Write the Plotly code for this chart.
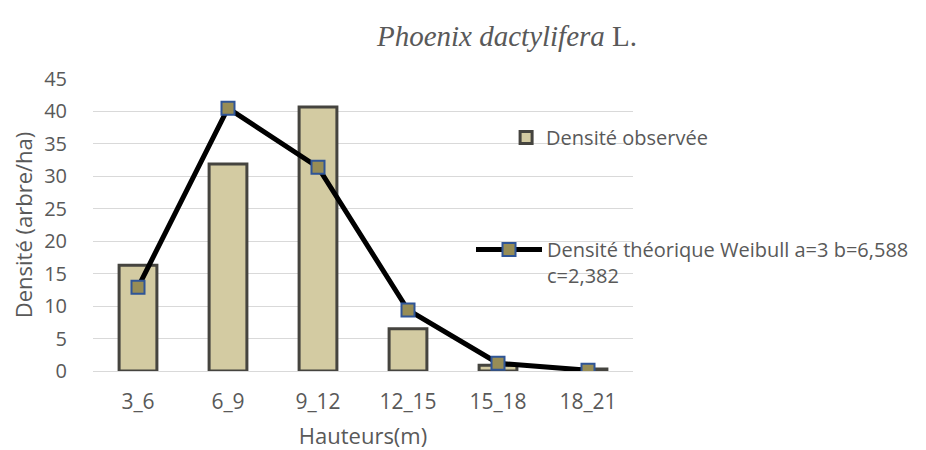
import plotly.graph_objects as go

categories = ["3_6", "6_9", "9_12", "12_15", "15_18", "18_21"]
observed = [16.3, 31.9, 40.7, 6.5, 0.9, 0.3]
weibull = [12.9, 40.5, 31.4, 9.4, 1.2, 0.1]
y_ticks = [0, 5, 10, 15, 20, 25, 30, 35, 40, 45]

font_main = "Open Sans, Liberation Sans, sans-serif"
grey = "#595959"

W, H = 918, 442

fig = go.Figure()
fig.add_trace(go.Bar(
    x=categories, y=observed, name="Densité observée",
    marker=dict(color="#d3cba2", line=dict(color="#45443f", width=3)),
    width=0.42, legend="legend",
))
fig.add_trace(go.Scatter(
    x=categories, y=weibull, mode="lines+markers",
    name="Densité théorique Weibull a=3 b=6,588<br>c=2,382",
    line=dict(color="black", width=5),
    marker=dict(symbol="square", size=13, color="#978d56",
                line=dict(color="#2f5597", width=2)),
    legend="legend2",
))

fig.update_layout(
    width=W, height=H,
    margin=dict(l=85, r=293, t=71, b=79, autoexpand=False),
    paper_bgcolor="white", plot_bgcolor="white",
    title=dict(
        text="<i>Phoenix dactylifera</i> L.",
        font=dict(family="Liberation Serif, Times New Roman, serif", size=29, color=grey),
        x=499 / W, xanchor="center", y=1 - 28 / H, yanchor="middle",
    ),
    font=dict(family=font_main, size=20, color=grey),
    xaxis=dict(
        title=dict(text="Hauteurs(m)", font=dict(size=22, color=grey), standoff=16),
        showgrid=False, showline=True, linecolor="#d9d9d9", linewidth=1,
        tickfont=dict(size=21, color=grey), ticks="", ticklabelstandoff=12,
        automargin=False,
    ),
    yaxis=dict(
        title=dict(text="Densité (arbre/ha)", font=dict(size=22, color=grey), standoff=8),
        range=[0, 45], tickvals=y_ticks, showgrid=True, gridcolor="#d9d9d9",
        gridwidth=1, zeroline=False, showline=False, ticklabelstandoff=25,
        tickfont=dict(size=20, color=grey), automargin=False,
    ),
    legend=dict(x=0.765, y=0.80, xanchor="left", yanchor="middle",
                bgcolor="rgba(0,0,0,0)", font=dict(size=20, color=grey)),
    legend2=dict(x=0.70, y=0.372, xanchor="left", yanchor="middle", itemwidth=66,
                 valign="top",
                 bgcolor="rgba(0,0,0,0)", font=dict(size=20, color=grey)),
    showlegend=True,
)

fig.write_html("out.html")
